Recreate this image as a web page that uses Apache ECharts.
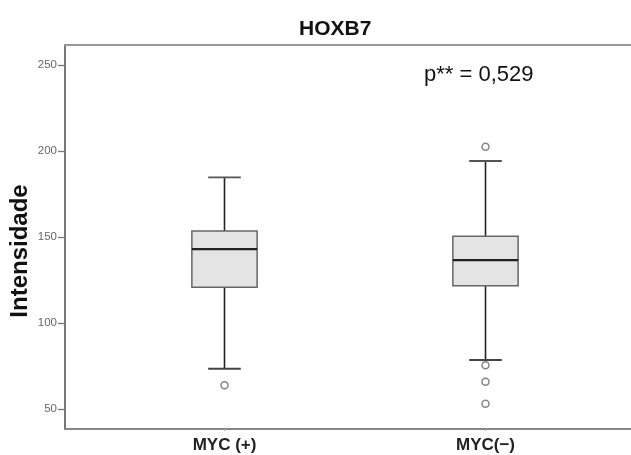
<!DOCTYPE html>
<html><head><meta charset="utf-8">
<script src="https://cdn.jsdelivr.net/npm/echarts@6/dist/echarts.min.js"></script>
<style>html,body{margin:0;padding:0;background:#fff}#c{width:631px;height:455px}</style>
</head><body><div id="c"></div>
<script>
const titleText = 'HOXB7';
const pText = 'p** = 0,529';
const yName = 'Intensidade';
const categories = ['MYC (+)', 'MYC(−)'];
// [min, Q1, median, Q3, max]
const boxMYCpos = [73.4, 120.8, 143.0, 153.5, 184.7];
const boxMYCneg = [78.5, 121.7, 136.6, 150.4, 194.2];
const outliersMYCpos = [63.8];
const outliersMYCneg = [202.5, 75.4, 65.9, 53.1];
const yMin = 50, yMax = 250, yStep = 50;

const boxData = [[0].concat(boxMYCpos), [1].concat(boxMYCneg)];
const outlierData = outliersMYCpos.map(v => [0, v]).concat(outliersMYCneg.map(v => [1, v]));

const chart = echarts.init(document.getElementById('c'), null, {renderer: 'canvas'});
const font = 'Liberation Sans, Arial, sans-serif';

function renderBox(params, api) {
  const x = api.value(0);
  const lo = api.coord([x, api.value(1)]);
  const q1 = api.coord([x, api.value(2)]);
  const md = api.coord([x, api.value(3)]);
  const q3 = api.coord([x, api.value(4)]);
  const hi = api.coord([x, api.value(5)]);
  const band = api.size([1, 0])[0];
  const bw = band * 0.25;
  const cw = bw * 0.5;
  const cx = lo[0];
  return {
    type: 'group',
    children: [
      {type: 'line', shape: {x1: cx, y1: q3[1], x2: cx, y2: hi[1]}, style: {stroke: '#222', lineWidth: 1.6}},
      {type: 'line', shape: {x1: cx, y1: q1[1], x2: cx, y2: lo[1]}, style: {stroke: '#222', lineWidth: 1.6}},
      {type: 'line', shape: {x1: cx - cw / 2, y1: hi[1], x2: cx + cw / 2, y2: hi[1]}, style: {stroke: '#555', lineWidth: 1.8}},
      {type: 'line', shape: {x1: cx - cw / 2, y1: lo[1], x2: cx + cw / 2, y2: lo[1]}, style: {stroke: '#444', lineWidth: 1.8}},
      {type: 'rect', shape: {x: cx - bw / 2, y: q3[1], width: bw, height: q1[1] - q3[1]}, style: {fill: '#e4e4e4', stroke: '#666', lineWidth: 1.5}},
      {type: 'line', shape: {x1: cx - bw / 2, y1: md[1], x2: cx + bw / 2, y2: md[1]}, style: {stroke: '#222', lineWidth: 2.2}}
    ]
  };
}

chart.setOption({
  animation: false,
  backgroundColor: '#fff',
  title: [
    {text: titleText, left: 294, top: 14, textStyle: {fontFamily: font, fontWeight: 'bold', fontSize: 21, color: '#111'}},
    {text: pText, left: 419, top: 59, textStyle: {fontFamily: font, fontWeight: 'normal', fontSize: 22, color: '#111'}}
  ],
  graphic: [
    {type: 'text', x: 20, y: 251, rotation: Math.PI / 2,
     style: {text: yName, fontFamily: font, fontWeight: 'bold', fontSize: 24, fill: '#111', textAlign: 'center', textVerticalAlign: 'middle'}}
  ],
  grid: [
    {left: 94, right: 15, top: 65, bottom: 46},
    {left: 65, right: -10, top: 45, bottom: 26}
  ],
  xAxis: [
    {type: 'category', gridIndex: 0, data: categories, offset: 20, boundaryGap: true,
     axisLine: {show: false}, axisTick: {show: true, alignWithLabel: true, length: 2, lineStyle: {color: '#aaa'}},
     axisLabel: {margin: 8, fontFamily: font, fontWeight: 'bold', fontSize: 17, color: '#222'}, splitLine: {show: false}},
    {type: 'value', gridIndex: 1, min: 0, max: 1, position: 'bottom',
     axisLine: {show: true, onZero: false, lineStyle: {color: '#888', width: 2}}, axisTick: {show: false}, axisLabel: {show: false}, splitLine: {show: false}},
    {type: 'value', gridIndex: 1, min: 0, max: 1, position: 'top',
     axisLine: {show: true, onZero: false, lineStyle: {color: '#999', width: 2}}, axisTick: {show: false}, axisLabel: {show: false}, splitLine: {show: false}}
  ],
  yAxis: [
    {type: 'value', gridIndex: 0, min: yMin, max: yMax, interval: yStep, position: 'left', offset: 29,
     axisLine: {show: false}, axisTick: {show: true, length: 7, lineStyle: {color: '#777', width: 1.3}},
     axisLabel: {margin: 8, fontFamily: font, fontSize: 11.5, color: '#666'}, splitLine: {show: false}},
    {type: 'value', gridIndex: 1, min: 0, max: 1, position: 'left',
     axisLine: {show: true, onZero: false, lineStyle: {color: '#777', width: 2}}, axisTick: {show: false}, axisLabel: {show: false}, splitLine: {show: false}}
  ],
  series: [
    {type: 'custom', xAxisIndex: 0, yAxisIndex: 0, renderItem: renderBox, data: boxData,
     encode: {x: 0, y: [1, 2, 3, 4, 5]}, silent: true},
    {type: 'scatter', xAxisIndex: 0, yAxisIndex: 0, data: outlierData, symbol: 'circle', symbolSize: 7,
     itemStyle: {color: '#fff', borderColor: '#666', borderWidth: 1.5}, silent: true}
  ]
});
</script>
</body></html>
